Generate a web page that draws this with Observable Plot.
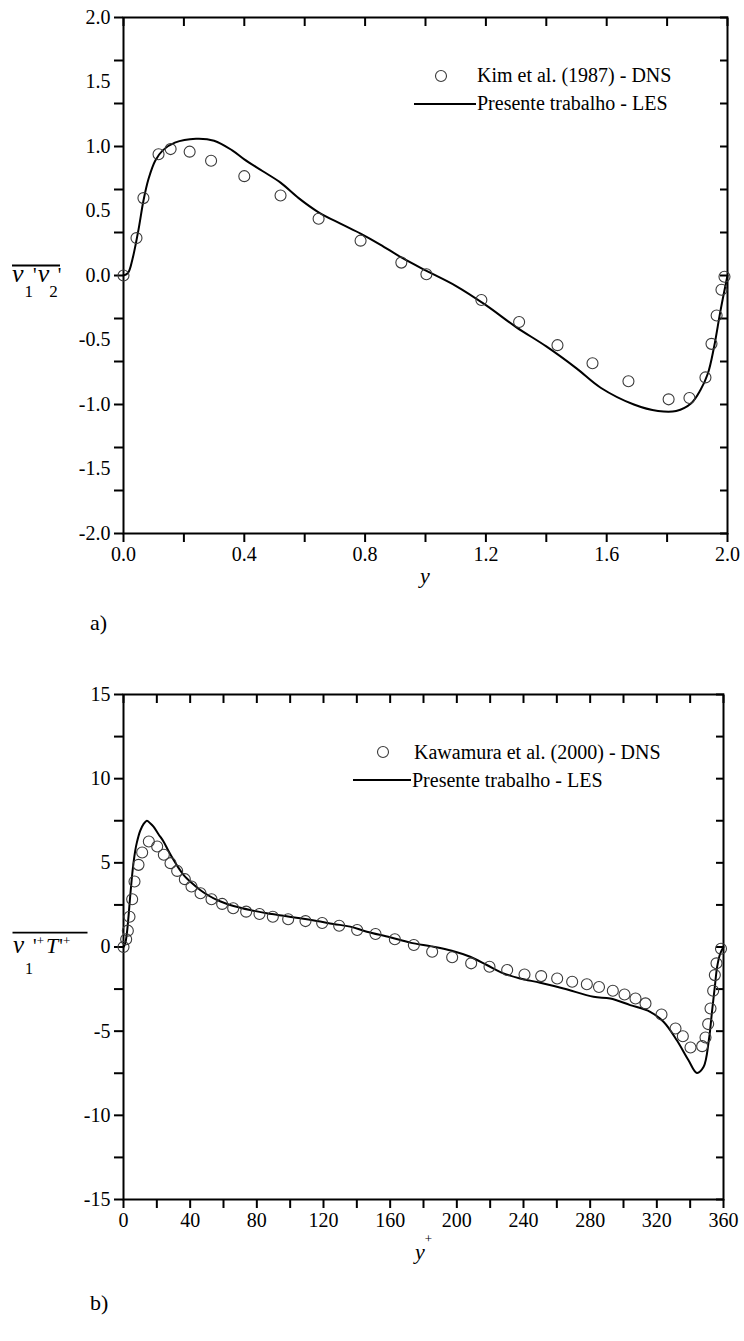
<!DOCTYPE html>
<html><head><meta charset="utf-8">
<script src="https://cdn.jsdelivr.net/npm/d3@7"></script>
<script src="https://cdn.jsdelivr.net/npm/@observablehq/plot@0.6"></script>
<style>
html,body{margin:0;padding:0;background:#fff;}
#page{position:relative;width:744px;height:1341px;overflow:hidden;background:#fff;font-family:"Liberation Serif","Times New Roman",serif;}
#top,#bot{position:absolute;left:0;}
#top{top:0;}
#bot{top:660px;}
#ov{position:absolute;left:0;top:0;pointer-events:none;}
</style></head>
<body><div id="page"><div id="top"></div><div id="bot"></div></div>
<script>
const FONT = "'Liberation Serif', 'Times New Roman', serif";
// ---------- Panel a) data ----------
const dnsA_x = [0, 0.043, 0.066, 0.116, 0.156, 0.219, 0.29, 0.40, 0.52, 0.646, 0.785, 0.92, 1.003, 1.185, 1.31, 1.437, 1.553, 1.672, 1.805, 1.874, 1.927, 1.947, 1.964, 1.98, 1.99];
const dnsA_v = [0, 0.29, 0.60, 0.94, 0.98, 0.96, 0.89, 0.77, 0.62, 0.44, 0.27, 0.10, 0.01, -0.19, -0.36, -0.54, -0.68, -0.82, -0.96, -0.95, -0.79, -0.53, -0.31, -0.11, -0.01];
const lesA_x = [0, 0.015, 0.03, 0.05, 0.066, 0.083, 0.105, 0.13, 0.17, 0.24, 0.30, 0.36, 0.40, 0.46, 0.52, 0.58, 0.646, 0.72, 0.785, 0.85, 0.92, 1.0, 1.1, 1.2, 1.3, 1.4, 1.5, 1.58, 1.69, 1.77, 1.83, 1.88, 1.91, 1.935, 1.955, 1.977, 2.0];
const lesA_v = [0, 0.02, 0.13, 0.36, 0.58, 0.75, 0.89, 0.97, 1.03, 1.06, 1.045, 0.97, 0.90, 0.81, 0.72, 0.60, 0.49, 0.40, 0.325, 0.24, 0.14, 0.04, -0.08, -0.23, -0.40, -0.55, -0.72, -0.87, -1.0, -1.05, -1.05, -0.99, -0.89, -0.76, -0.56, -0.27, 0.0];
const xTicksA = [0, 0.2, 0.4, 0.6, 0.8, 1.0, 1.2, 1.4, 1.6, 1.8, 2.0];
const xLabelsA = [0, 0.4, 0.8, 1.2, 1.6, 2.0];
const yTicksA = [-2, -5/3, -4/3, -1, -2/3, -1/3, 0, 1/3, 2/3, 1, 4/3, 5/3, 2];
const yLabelsA = [-2, -1.5, -1, -0.5, 0, 0.5, 1, 1.5, 2];

// ---------- Panel b) data ----------
const dnsB_x = [0, 1.6, 2.6, 3.6, 5.2, 6.6, 9.0, 11.2, 15.2, 20.2, 24.2, 28.2, 32.2, 36.8, 40.8, 46.2, 52.8, 59.2, 65.8, 73.6, 81.6, 89.6, 98.8, 109.2, 119.2, 129.4, 140.2, 151.2, 162.8, 174.2, 185.2, 197.2, 208.6, 219.6, 230.2, 240.6, 250.6, 260.2, 269.2, 278.0, 285.3, 293.6, 300.6, 307.2, 313.2, 322.8, 331.2, 335.6, 340.2, 347.2, 349.2, 350.8, 352.2, 353.8, 354.8, 355.8, 358.5];
const dnsB_v = [0, 0.46, 0.97, 1.8, 2.84, 3.89, 4.88, 5.61, 6.27, 5.97, 5.48, 4.98, 4.52, 4.03, 3.59, 3.19, 2.84, 2.56, 2.30, 2.10, 1.96, 1.80, 1.65, 1.54, 1.43, 1.26, 1.01, 0.77, 0.46, 0.12, -0.28, -0.61, -0.97, -1.17, -1.37, -1.63, -1.73, -1.87, -2.06, -2.21, -2.38, -2.60, -2.82, -3.06, -3.35, -4.01, -4.84, -5.30, -5.97, -5.89, -5.38, -4.58, -3.65, -2.60, -1.67, -0.97, -0.1];
const lesB_x = [0, 1, 2, 3, 4, 5, 6, 7, 8, 10, 12, 14, 16, 18, 21, 24, 27, 30, 33, 36, 41, 46, 51, 56, 61, 66, 76, 86, 96, 106, 116, 126, 136, 146, 160, 172, 186, 197, 208, 218, 228, 238, 250, 264, 282, 292, 304, 316, 324, 332, 339, 344, 348, 351.2, 353.2, 354.8, 356.2, 358, 360];
const lesB_v = [0, 0.2, 0.8, 1.8, 3.0, 4.1, 5.0, 5.7, 6.2, 6.9, 7.3, 7.5, 7.35, 7.15, 6.7, 6.27, 5.7, 5.18, 4.7, 4.29, 3.8, 3.39, 3.06, 2.8, 2.6, 2.44, 2.2, 2.0, 1.85, 1.71, 1.55, 1.37, 1.21, 0.91, 0.58, 0.26, 0.02, -0.22, -0.58, -1.07, -1.57, -1.87, -2.12, -2.46, -2.96, -3.06, -3.45, -3.85, -4.44, -5.54, -6.73, -7.48, -7.13, -5.54, -3.75, -2.36, -1.17, -0.4, 0];
const xTicksB = d3.range(0, 361, 20);
const xLabelsB = [0, 40, 80, 120, 160, 200, 240, 280, 320, 360];
const yTicksB = d3.range(-15, 15.1, 2.5);
const yLabelsB = [-15, -10, -5, 0, 5, 10, 15];

const zip = (xs, vs) => xs.map((x, i) => ({x, v: vs[i]}));
const hy = s => s.replace("\u2212", "-");

function panel({xDomain, yDomain, xTicks, xLabels, yTicks, yLabels, fmtX, fmtY, dns, les, height, m}) {
  const blank = () => "";
  return Plot.plot({
    width: 744, height,
    marginLeft: m[0], marginRight: m[1], marginTop: m[2], marginBottom: m[3],
    style: {fontFamily: FONT, fontSize: "20px", color: "#000", background: "#fff"},
    x: {domain: xDomain},
    y: {domain: yDomain},
    marks: [
      Plot.axisY(yTicks, {anchor: "left", tickSize: 9, tickFormat: blank, strokeWidth: 2, label: null}),
      Plot.axisY(yTicks, {anchor: "right", tickSize: -8, tickFormat: blank, strokeWidth: 2, label: null}),
      Plot.axisY(yLabels, {anchor: "left", tickSize: 0, tickPadding: 13, tickFormat: fmtY, fontSize: 20, fontFamily: FONT, label: null}),
      Plot.axisX(xTicks, {anchor: "bottom", tickSize: 9, tickFormat: blank, strokeWidth: 2, label: null}),
      Plot.axisX(xTicks, {anchor: "top", tickSize: -8, tickFormat: blank, strokeWidth: 2, label: null}),
      Plot.axisX(xLabels, {anchor: "bottom", tickSize: 0, tickPadding: 13, tickFormat: fmtX, fontSize: 20, fontFamily: FONT, label: null}),
      Plot.frame({stroke: "#000", strokeWidth: 2}),
      Plot.line(les, {x: "x", y: "v", curve: "catmull-rom", stroke: "#000", strokeWidth: 2}),
      Plot.dot(dns, {x: "x", y: "v", r: 5.5, stroke: "#3a3a3a", strokeWidth: 1.1, fill: "none"})
    ]
  });
}

document.getElementById("top").append(panel({
  xDomain: [0, 2], yDomain: [-2, 2],
  xTicks: xTicksA, xLabels: xLabelsA, yTicks: yTicksA, yLabels: yLabelsA,
  fmtX: d => d3.format(".1f")(d), fmtY: d => hy(d3.format(".1f")(d)),
  dns: zip(dnsA_x, dnsA_v), les: zip(lesA_x, lesA_v),
  height: 660, m: [123, 17, 17, 127]
}));

document.getElementById("bot").append(panel({
  xDomain: [0, 360], yDomain: [-15, 15],
  xTicks: xTicksB, xLabels: xLabelsB, yTicks: yTicksB, yLabels: yLabelsB,
  fmtX: d => String(d), fmtY: d => String(d),
  dns: zip(dnsB_x, dnsB_v), les: zip(lesB_x, lesB_v),
  height: 681, m: [123, 21, 34, 142]
}));

// ---------- overlay: axis titles, legends, panel letters ----------
const ov = d3.select("#page").append("svg").attr("id", "ov")
  .attr("width", 744).attr("height", 1341)
  .attr("font-family", FONT);

function t(x, y, s, size, opts = {}) {
  const el = ov.append("text").attr("x", x).attr("y", y).attr("font-size", size).attr("fill", "#000").text(s);
  if (opts.italic) el.attr("font-style", "italic");
  if (opts.anchor) el.attr("text-anchor", opts.anchor);
  return el;
}
// rich text: parts = [text, size, italic, dy, dx]
function rich(x, y, parts) {
  const el = ov.append("text").attr("x", x).attr("y", y).attr("fill", "#000");
  for (const [s, size, italic, dy, dx] of parts) {
    const ts = el.append("tspan").attr("font-size", size).text(s);
    if (italic) ts.attr("font-style", "italic");
    if (dy) ts.attr("dy", dy);
    if (dx) ts.attr("dx", dx);
  }
  return el;
}

// legend a)
ov.append("circle").attr("cx", 441).attr("cy", 76).attr("r", 5.5).attr("fill", "none").attr("stroke", "#3a3a3a").attr("stroke-width", 1.1);
t(477, 82, "Kim et al. (1987) - DNS", 20);
ov.append("line").attr("x1", 414).attr("x2", 476).attr("y1", 104).attr("y2", 104).attr("stroke", "#000").attr("stroke-width", 2);
t(477, 110, "Presente trabalho - LES", 20);

// legend b)
ov.append("circle").attr("cx", 383).attr("cy", 752).attr("r", 5.5).attr("fill", "none").attr("stroke", "#3a3a3a").attr("stroke-width", 1.1);
t(414, 759, "Kawamura et al. (2000) - DNS", 20);
ov.append("line").attr("x1", 353).attr("x2", 411).attr("y1", 780).attr("y2", 780).attr("stroke", "#000").attr("stroke-width", 2);
t(412, 787, "Presente trabalho - LES", 20);

// y-axis title a): overline v1'v2'
ov.append("line").attr("x1", 12).attr("x2", 60).attr("y1", 265.5).attr("y2", 265.5).attr("stroke", "#000").attr("stroke-width", 1.8);
rich(12, 282, [["v", 26, true], ["1", 17, false, 15, 1], ["'", 20, false, -15, 0], ["v", 26, true, 0, 1], ["2", 17, false, 15, 0], ["'", 20, false, -15, 0]]);

// y-axis title b): overline v1'+T'+
ov.append("line").attr("x1", 12.5).attr("x2", 87.5).attr("y1", 932.7).attr("y2", 932.7).attr("stroke", "#000").attr("stroke-width", 1.8);
rich(13, 953, [["v", 25, true], ["1", 16, false, 21, 1], ["'", 20, false, -21, 0], ["+", 13, false, -8, 0], ["T", 22, true, 8, 2], ["'", 20, false, 0, 1], ["+", 13, false, -8, 0]]);

// x-axis titles
t(425, 583, "y", 22, {italic: true, anchor: "middle"});
rich(415, 1259, [["y", 22, true], ["+", 13, false, -16, 0]]);

// panel letters
t(90, 630, "a)", 22);
t(90, 1310, "b)", 22);
</script>
</body></html>
